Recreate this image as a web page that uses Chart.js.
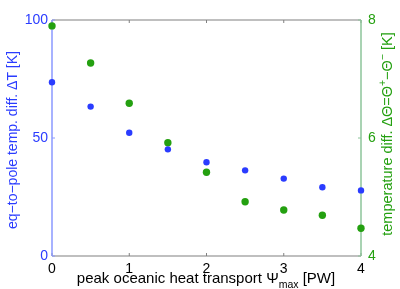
<!DOCTYPE html>
<html><head><meta charset="utf-8">
<script src="https://cdn.jsdelivr.net/npm/chart.js@4/dist/chart.umd.min.js"></script>
<style>html,body{margin:0;padding:0;background:#fff}#wrap{width:400px;height:289px}</style>
</head><body><div id="wrap"><canvas id="c" width="400" height="289"></canvas></div>
<script>
const heatTransport = [0, 0.5, 1, 1.5, 2, 2.5, 3, 3.5, 4];
const deltaT = [73.6, 63.3, 52.2, 45.2, 39.7, 36.3, 32.8, 29.1, 27.8];
const deltaTheta = [7.90, 7.27, 6.59, 5.92, 5.42, 4.92, 4.78, 4.69, 4.47];
const xTicks = [0, 1, 2, 3, 4];
const leftTicks = [0, 50, 100];
const rightTicks = [4, 6, 8];

const BLUE = '#2a3cff', GREEN = '#24a010';
const FONT = '"Liberation Sans", Arial, sans-serif';

function drawRich(ctx, parts, size) {
  let total = 0;
  parts.forEach(p => { ctx.font = (size * p[1]) + 'px ' + FONT; p.w = ctx.measureText(p[0]).width; total += p.w; });
  let x = -total / 2;
  parts.forEach(p => { ctx.font = (size * p[1]) + 'px ' + FONT; ctx.fillText(p[0], x, p[2]); x += p.w; });
}

const framePlugin = {
  id: 'frame',
  beforeDatasetsDraw(chart) {
    const {ctx, chartArea: a, scales} = chart;
    ctx.save();
    ctx.lineWidth = 1.2;
    ctx.strokeStyle = '#808080';
    ctx.beginPath();
    ctx.moveTo(a.left, a.top); ctx.lineTo(a.right, a.top);
    ctx.moveTo(a.left, a.bottom); ctx.lineTo(a.right, a.bottom);
    ctx.stroke();
    ctx.lineWidth = 1;
    ctx.beginPath();
    xTicks.forEach(v => {
      const px = scales.x.getPixelForValue(v);
      ctx.moveTo(px, a.bottom); ctx.lineTo(px, a.bottom - 3);
      ctx.moveTo(px, a.top); ctx.lineTo(px, a.top + 3);
    });
    ctx.stroke();
    ctx.strokeStyle = '#8a98ff';
    ctx.beginPath();
    leftTicks.forEach(v => { const py = scales.y.getPixelForValue(v); ctx.moveTo(a.left, py); ctx.lineTo(a.left + 3, py); });
    ctx.stroke();
    ctx.strokeStyle = '#8cc49a';
    ctx.beginPath();
    rightTicks.forEach(v => { const py = scales.y2.getPixelForValue(v); ctx.moveTo(a.right, py); ctx.lineTo(a.right - 3, py); });
    ctx.stroke();
    ctx.lineWidth = 1.5;
    ctx.strokeStyle = '#8a98ff';
    ctx.beginPath(); ctx.moveTo(a.left, a.top); ctx.lineTo(a.left, a.bottom); ctx.stroke();
    ctx.strokeStyle = '#8cc49a';
    ctx.beginPath(); ctx.moveTo(a.right, a.top); ctx.lineTo(a.right, a.bottom); ctx.stroke();
    ctx.restore();
  },
  afterDraw(chart) {
    const {ctx, chartArea: a} = chart;
    ctx.save();
    ctx.textBaseline = 'alphabetic';
    ctx.textAlign = 'left';
    ctx.fillStyle = '#000';
    ctx.translate(206, 283);
    drawRich(ctx, [['peak oceanic heat transport \u03A8', 1, 0], ['max', 0.7, 5], [' [PW]', 1, 0]], 15);
    ctx.restore();
    ctx.save();
    ctx.fillStyle = BLUE;
    ctx.translate(17, 140);
    ctx.rotate(-Math.PI / 2);
    drawRich(ctx, [['eq\u2212to\u2212pole temp. diff. \u0394T [K]', 1, 0]], 14);
    ctx.restore();
    ctx.save();
    ctx.fillStyle = GREEN;
    ctx.translate(392, 134);
    ctx.rotate(-Math.PI / 2);
    drawRich(ctx, [['temperature diff. \u0394\u0398=\u0398', 1, 0], ['+', 0.72, -6], ['\u2212\u0398', 1, 0], ['\u2212', 0.72, -6], [' [K]', 1, 0]], 14.5);
    ctx.restore();
  }
};

new Chart(document.getElementById('c'), {
  type: 'scatter',
  data: {
    datasets: [
      { label: 'dT', data: heatTransport.map((x, i) => ({x, y: deltaT[i]})), yAxisID: 'y',
        backgroundColor: BLUE, borderWidth: 0, pointRadius: 3.2, pointHoverRadius: 3.2, clip: false },
      { label: 'dTheta', data: heatTransport.map((x, i) => ({x, y: deltaTheta[i]})), yAxisID: 'y2',
        backgroundColor: GREEN, borderWidth: 0, pointRadius: 3.7, pointHoverRadius: 3.7, clip: false }
    ]
  },
  options: {
    responsive: false, animation: false, events: [],
    layout: { padding: { top: 20, left: 0, right: 0, bottom: 0 } },
    plugins: { legend: { display: false }, tooltip: { enabled: false } },
    scales: {
      x: { type: 'linear', min: 0, max: 4, position: 'bottom',
        afterBuildTicks: s => { s.ticks = xTicks.map(v => ({value: v})); },
        afterFit: s => { s.height = 33; },
        grid: { display: false, drawTicks: false }, border: { display: false },
        ticks: { color: '#000', font: { family: FONT, size: 14 }, padding: 5, maxRotation: 0, autoSkip: false } },
      y: { type: 'linear', min: 0, max: 100, position: 'left',
        afterBuildTicks: s => { s.ticks = leftTicks.map(v => ({value: v})); },
        afterFit: s => { s.width = 52; },
        grid: { display: false, drawTicks: false }, border: { display: false },
        ticks: { color: BLUE, font: { family: FONT, size: 14 }, padding: 4 } },
      y2: { type: 'linear', min: 4, max: 8, position: 'right',
        afterBuildTicks: s => { s.ticks = rightTicks.map(v => ({value: v})); },
        afterFit: s => { s.width = 39; },
        grid: { display: false, drawTicks: false }, border: { display: false },
        ticks: { color: GREEN, font: { family: FONT, size: 14 }, padding: 7 } }
    }
  },
  plugins: [framePlugin]
});
</script></body></html>
